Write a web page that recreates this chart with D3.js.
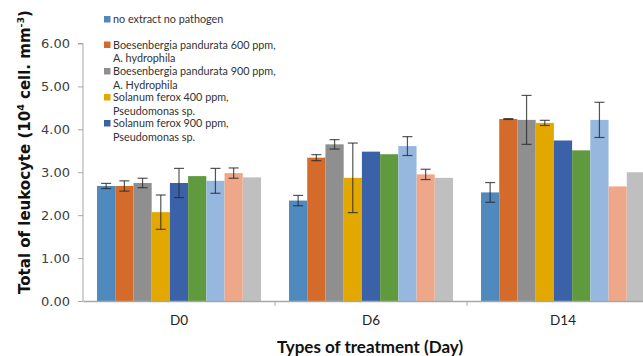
<!DOCTYPE html>
<html>
<head>
  <meta charset="utf-8">
  <title>Total of leukocyte</title>
  <script src="https://d3js.org/d3.v7.min.js"></script>
  <style>
    body { margin: 0; background: #fff; }
  </style>
</head>
<body>
  <div id="chart"></div>

<script>
  // categories (days) and the nine treatments
  const days = ["D0", "D6", "D14"];
  const series = ["no extract no pathogen",
    "Boesenbergia pandurata 600 ppm,|A. hydrophila",
    "Boesenbergia pandurata 900 ppm,|A. Hydrophila",
    "Solanum ferox 400 ppm,|Pseudomonas sp.",
    "Solanum ferox 900 ppm,|Pseudomonas sp.",
    "s6", "s7", "s8", "s9"];
  const colors = ["#4f89bd", "#d46b2b", "#8f8f8f", "#e2a800", "#3b62a9",
                  "#609a3f", "#97b8de", "#efa78a", "#bfbfbf"];

  // values per series, in day order D0, D6, D14
  const values = [
    [2.68, 2.34, 2.53],
    [2.68, 3.34, 4.24],
    [2.75, 3.65, 4.22],
    [2.07, 2.87, 4.15],
    [2.75, 3.48, 3.74],
    [2.91, 3.42, 3.51],
    [2.80, 3.61, 4.22],
    [2.98, 2.95, 2.67],
    [2.88, 2.87, 3.00]
  ];
  // error (+/-) per series
  const errors = [
    [0.06, 0.12, 0.23],
    [0.12, 0.07, 0.01],
    [0.11, 0.11, 0.57],
    [0.40, 0.81, 0.06],
    [0.34, 0.00, 0.00],
    [0.00, 0.00, 0.00],
    [0.29, 0.22, 0.41],
    [0.12, 0.12, 0.00],
    [0.00, 0.00, 0.00]
  ];
  const yTicks = [0, 1, 2, 3, 4, 5, 6];

  const W = 643, H = 356;
  const plot = {left: 83, right: 659, top: 43.5, bottom: 301};

  const svg = d3.select("#chart").append("svg")
    .attr("width", W).attr("height", H)
    .style("font-family", "'DejaVu Sans', sans-serif");

  const x = d3.scaleBand().domain(days).range([plot.left, plot.right]);
  const xs = d3.scaleBand().domain(d3.range(series.length))
    .range([0, x.bandwidth()]).paddingOuter(0.77);
  const y = d3.scaleLinear().domain([0, 6]).range([plot.bottom, plot.top]);

  // bars
  const data = [];
  series.forEach((s, i) => days.forEach((d, j) =>
    data.push({s: i, day: d, v: values[i][j], e: errors[i][j]})));

  svg.append("g").selectAll("rect")
    .data(data)
    .join("rect")
      .attr("x", d => x(d.day) + xs(d.s))
      .attr("y", d => y(d.v))
      .attr("width", xs.bandwidth())
      .attr("height", d => y(0) - y(d.v))
      .attr("fill", d => colors[d.s]);

  // error bars
  const eg = svg.append("g")
    .attr("stroke", "#2a2a2a").attr("stroke-width", 1.2).attr("stroke-opacity", 0.8);
  data.filter(d => d.e > 0).forEach(d => {
    const cx = x(d.day) + xs(d.s) + xs.bandwidth() / 2;
    eg.append("line").attr("x1", cx).attr("x2", cx)
      .attr("y1", y(d.v - d.e)).attr("y2", y(d.v + d.e));
    [d.v - d.e, d.v + d.e].forEach(v =>
      eg.append("line").attr("x1", cx - 5).attr("x2", cx + 5)
        .attr("y1", y(v)).attr("y2", y(v)));
  });

  // y axis
  const ya = svg.append("g")
    .attr("transform", `translate(${plot.left},0)`)
    .call(d3.axisLeft(y).tickValues(yTicks).tickFormat(d3.format(".2f"))
      .tickSize(5).tickPadding(8));
  ya.select(".domain").attr("stroke", "#a6a6a6").attr("d", `M-5,${plot.top}H0V${plot.bottom}`);
  ya.selectAll(".tick line").attr("stroke", "#a6a6a6");
  ya.selectAll("text").attr("font-size", 13).attr("fill", "#404040")
    .attr("font-family", "'DejaVu Sans', sans-serif");

  // x axis
  const xa = svg.append("g")
    .attr("transform", `translate(0,${plot.bottom})`)
    .call(d3.axisBottom(x).tickSize(0).tickPadding(14));
  xa.select(".domain").attr("stroke", "#a6a6a6").attr("stroke-width", 1.3);
  xa.selectAll("text").attr("font-size", 13.5).attr("fill", "#222")
    .attr("font-family", "Lato, sans-serif");
  xa.selectAll(".sep")
    .data(days.slice(1))
    .join("line")
      .attr("class", "sep")
      .attr("x1", d => x(d)).attr("x2", d => x(d))
      .attr("y1", 0).attr("y2", 5)
      .attr("stroke", "#a6a6a6");

  // axis titles
  svg.append("text")
    .attr("transform", `translate(30,152) rotate(-90)`)
    .attr("text-anchor", "middle")
    .attr("font-family", "'DejaVu Sans', sans-serif")
    .attr("font-weight", "bold").attr("font-size", 15).attr("fill", "#111")
    .call(t => {
      t.append("tspan").text("Total of leukocyte (10");
      t.append("tspan").attr("dy", -6).attr("font-size", 9.5).text("4");
      t.append("tspan").attr("dy", 6).text(" cell. mm");
      t.append("tspan").attr("dy", -6).attr("font-size", 9.5).text("-3");
      t.append("tspan").attr("dy", 6).text(")");
    });

  svg.append("text")
    .attr("x", 370).attr("y", 353)
    .attr("text-anchor", "middle")
    .attr("font-family", "Lato, sans-serif")
    .attr("font-weight", "bold").attr("font-size", 17).attr("fill", "#111")
    .text("Types of treatment (Day)");

  // legend (only first five entries visible)
  const legendRows = [19, 44.5, 71, 97, 123];
  const lg = svg.append("g").attr("font-family", "Lato, sans-serif")
    .attr("font-size", 10.8).attr("fill", "#333");
  series.slice(0, 5).forEach((s, i) => {
    const yy = legendRows[i];
    lg.append("rect").attr("x", 104).attr("y", yy - 3)
      .attr("width", 6.5).attr("height", 6.5).attr("fill", colors[i]);
    s.split("|").forEach((part, k) =>
      lg.append("text").attr("x", 113).attr("y", yy + 4 + k * 13.5).text(part));
  });
</script>
</body>
</html>
